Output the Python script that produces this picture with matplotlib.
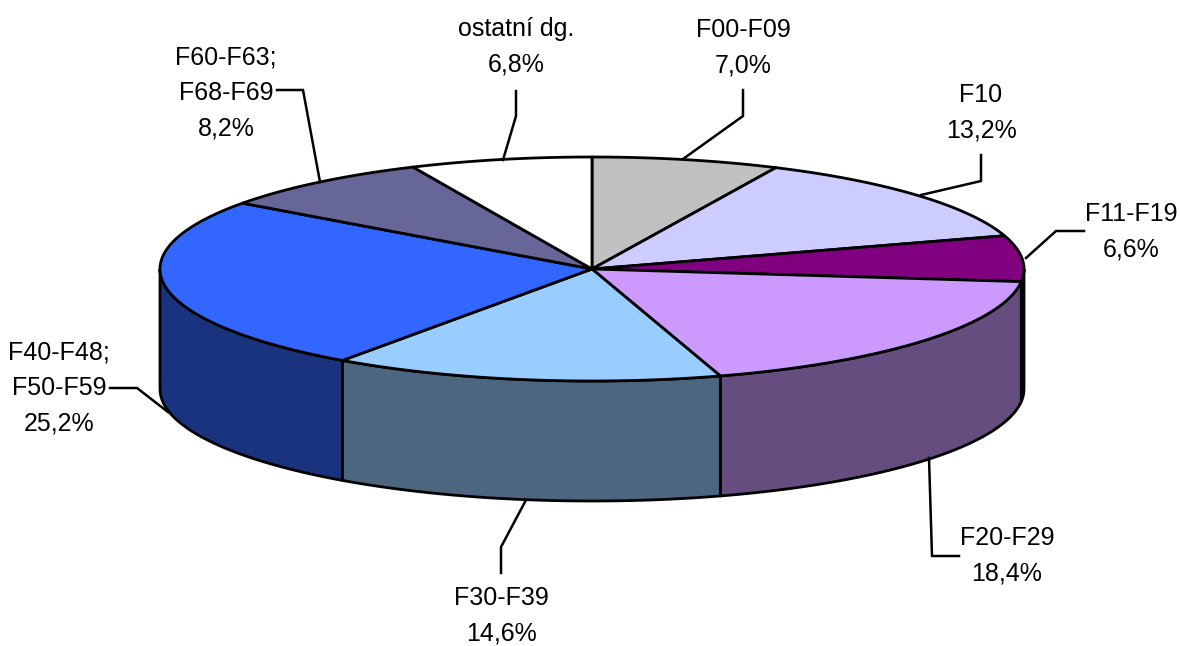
import numpy as np
import matplotlib
matplotlib.use("Agg")
import matplotlib.pyplot as plt
from matplotlib.patches import Polygon

labels = ["F00-F09", "F10", "F11-F19", "F20-F29", "F30-F39",
          "F40-F48;\nF50-F59", "F60-F63;\nF68-F69", "ostatní dg."]
values = [7.0, 13.2, 6.6, 18.4, 14.6, 25.2, 8.2, 6.8]
value_labels = ["7,0%", "13,2%", "6,6%", "18,4%", "14,6%", "25,2%", "8,2%", "6,8%"]
top_colors = ["#C0C0C0", "#CCCCFF", "#800080", "#CC99FF", "#99CCFF", "#3366FF", "#666699", "#FFFFFF"]
side_colors = ["#606060", "#66667F", "#400040", "#664D7F", "#4D667F", "#1A337F", "#33334D", "#7F7F7F"]
label_xy = [(743, 48), (981, 113), (1131, 232), (1007, 556), (501, 616), (59, 388), (226, 93), (516, 47)]
leaders = [[(743, 90), (743, 116), (683, 159)],
           [(981, 155), (981, 181), (921, 195)],
           [(1084, 231), (1056, 231), (1026, 258)],
           [(959, 556), (932, 556), (929, 458)],
           [(110, 388), (137, 388), (168, 412)],
           [(501, 573), (501, 547), (526, 500)],
           [(277, 90), (303, 90), (320, 182)],
           [(516, 91), (516, 116), (503, 160)]]

CX, CY, RX, RY, DEPTH = 592, 269, 432, 112, 120

fig = plt.figure(figsize=(11.8, 6.46), dpi=100)
ax = fig.add_axes([0, 0, 1, 1])
ax.set_xlim(0, 1180)
ax.set_ylim(646, 0)
ax.axis("off")
plt.rcParams["font.family"] = ["Liberation Sans", "DejaVu Sans"]


def rim(a0, a1, n=200, dy=0):
    t = np.radians(np.linspace(a0, a1, n))
    return np.column_stack([CX + RX * np.sin(t), CY + dy - RY * np.cos(t)])


edges = np.cumsum([0] + values) / sum(values) * 360

# side walls: back-to-front order, only the visible front part (90..270 deg)
order = sorted(range(len(values)), key=lambda i: -abs((edges[i] + edges[i + 1]) / 2 - 180))
for i in order:
    a0, a1 = max(edges[i], 90), min(edges[i + 1], 270)
    if a0 >= a1:
        continue
    pts = np.vstack([rim(a0, a1), rim(a0, a1, dy=DEPTH)[::-1]])
    ax.add_patch(Polygon(pts, closed=True, fc=side_colors[i], ec="black", lw=2.0, joinstyle="round", zorder=2))

# top face wedges
for i in range(len(values)):
    pts = np.vstack([[(CX, CY)], rim(edges[i], edges[i + 1])])
    ax.add_patch(Polygon(pts, closed=True, fc=top_colors[i], ec="black", lw=2.0, joinstyle="round", zorder=3))

# leaders and labels
for pts in leaders:
    xs, ys = zip(*pts)
    ax.plot(xs, ys, color="black", lw=1.8, zorder=4, solid_joinstyle="miter")
for lab, val, (x, y) in zip(labels, value_labels, label_xy):
    ax.text(x, y, lab + "\n" + val, ha="center", va="center", fontsize=18,
            linespacing=1.62, color="black", zorder=5)

fig.savefig("out.png", dpi=100, facecolor="white")
